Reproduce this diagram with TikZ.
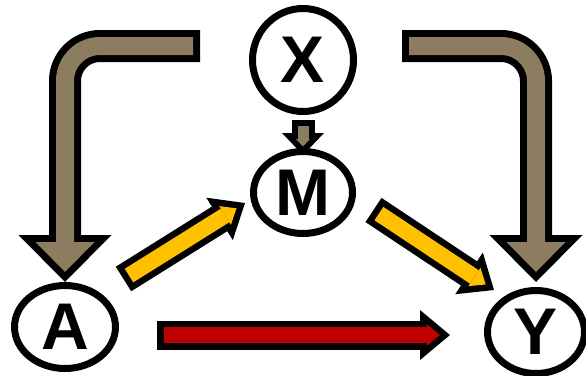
\documentclass[tikz,border=0pt]{standalone}
\usepackage{fontspec}
\setmainfont{Liberation Sans}
\usetikzlibrary{arrows.meta,shapes.geometric}
\definecolor{khaki}{RGB}{140,125,96}
\definecolor{gold}{RGB}{255,192,0}
\definecolor{crimson}{RGB}{192,0,0}
\tikzset{
  var/.style={ellipse,draw=black,line width=7pt,fill=white,inner sep=0pt,
    font=\fontsize{66}{66}\selectfont\bfseries},
  % block arrows: black outline drawn first, colour inside
  bent/.style={rounded corners=35pt,line width=18pt,draw=#1,
    shorten <=7pt,shorten >=10pt,-{Triangle[length=30pt,width=59pt,line width=0pt]},
    preaction={draw=black,line width=32pt,shorten <=0pt,shorten >=0pt,
      -{Triangle[length=47pt,width=93pt,line width=0pt]}}},
  bent/.default=khaki,
  block/.style={line width=16pt,draw=#1,
    shorten <=6.5pt,shorten >=10pt,-{Triangle[length=13.5pt,width=22pt,line width=0pt]},
    preaction={draw=black,line width=29pt,shorten <=0pt,shorten >=0pt,
      -{Triangle[length=30pt,width=50pt,line width=0pt]}}},
  block/.default=gold,
  small/.style={line width=11pt,draw=#1,
    shorten <=6pt,shorten >=8.5pt,-{Triangle[length=7.5pt,width=14pt,line width=0pt]},
    preaction={draw=black,line width=23pt,shorten <=0pt,shorten >=0pt,
      -{Triangle[length=22pt,width=42pt,line width=0pt]}}},
  small/.default=khaki,
}

\begin{document}
\begin{tikzpicture}[x=1pt,y=-1pt]
  \useasboundingbox (0,0) rectangle (586,375);
  \node[var,minimum width=101pt,minimum height=103pt] (X) at (303,60) {X};
  \node[var,minimum width=99pt,minimum height=82pt] (M) at (303,192.5) {M};
  \node[var,minimum width=101pt,minimum height=83pt] (A) at (65,327) {A};
  \node[var,minimum width=97pt,minimum height=83pt] (Y) at (536,332) {Y};
  % free ends
  \coordinate (xa) at (200,46);
  \coordinate (xy) at (402,46);
  \coordinate (am1) at (123.5,279);
  \coordinate (am2) at (245,203);
  \coordinate (my1) at (373.5,210);
  \coordinate (my2) at (494,290);
  \coordinate (ay1) at (157,335);
  \coordinate (ay2) at (450,335);
  \draw[bent] (xa) -| (A.north);
  \draw[bent] (xy) -| ([yshift=5pt]Y.north);
  \draw[small] ([yshift=-5pt]X.south) -- ([yshift=-7pt]M.north);
  \draw[block] (am1) -- (am2);
  \draw[block] (my1) -- (my2);
  \draw[block=crimson] (ay1) -- (ay2);
\end{tikzpicture}
\end{document}
